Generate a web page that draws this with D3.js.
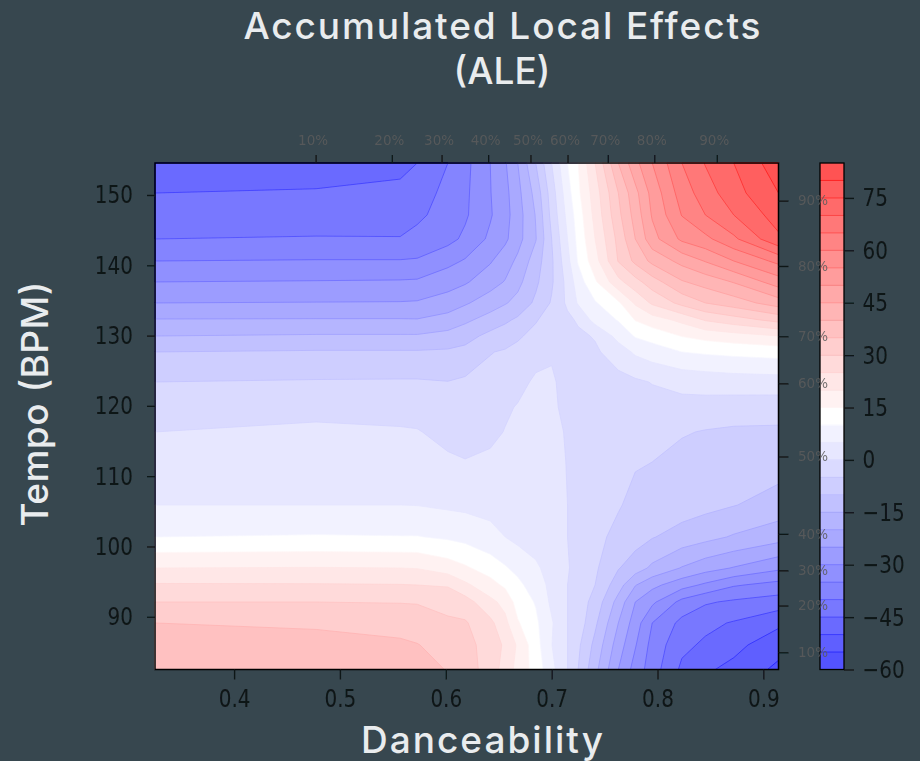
<!DOCTYPE html>
<html>
<head>
<meta charset="utf-8">
<script src="https://cdn.jsdelivr.net/npm/d3@7"></script>
<style>
html,body{margin:0;padding:0;background:#37474f;}
svg{display:block;}
</style>
</head>
<body>
<svg id="chart" width="920" height="761"></svg>
<script>
const danceabilityGrid = [0.3253,0.4775,0.5569,0.573,0.602,0.6183,0.642,0.6561,0.668,0.685,0.70,0.715,0.725,0.741,0.763,0.779,0.795,0.823,0.8452,0.872,0.9143];
const tempoGrid = [154.55,150.28,147.16,143.74,140.61,137.63,134.64,132.22,129.94,127.67,123.4,119.84,116.29,112.02,105.9,101.35,96.94,94.52,92.1,89.12,85.99,82.5];
const aleValues = [
 [-49,-48,-46.5,-45,-40,-36.5,-30,-25.5,-20,-10,0,10,15,25,40,48.5,55,65,70.3,75,83],
 [-45,-44.5,-43.7,-42,-38.8,-36,-30.2,-26.5,-21.5,-13.3,-2.5,8,14,22.5,35,43.5,51.7,62.4,67.5,73.1,80],
 [-42.6,-42.2,-41.8,-41,-37.9,-35.7,-30.5,-26.8,-22.2,-14.7,-3.5,6.5,12.5,21.5,33.7,42,50.5,60.2,65,70,77.4],
 [-40,-39.7,-39.8,-38.5,-36.5,-34,-29,-26,-21.8,-15.3,-5,5,11.5,20,31.5,40,48.2,56,58.7,64,74],
 [-35,-34.7,-34.7,-34.5,-31.5,-29.5,-25.5,-22.2,-19,-12.5,-5.8,3.5,10.5,18,30.3,36.2,41.3,46.6,50.3,55,61.4],
 [-30,-29.7,-29.5,-29.3,-26.8,-25.6,-22,-19.7,-16.4,-11,-5.7,1.7,7.5,14.3,23.5,28.2,32.7,39.5,42,45.3,52.5],
 [-25,-24.8,-24.7,-24.5,-23,-20.6,-17.5,-15.4,-13.5,-9,-4.5,1,5.5,9.5,14.2,20.7,25.8,31.5,35,37.5,42.5],
 [-19.7,-19.6,-19.6,-19.7,-17.8,-16,-12.9,-10.9,-9.1,-5.3,-3.3,-1.2,0.7,6.8,10.3,15.2,17.7,21.2,25.4,27.8,31.5],
 [-15,-14.5,-14.5,-14.5,-13.5,-11.8,-8.6,-7.3,-5.5,-3.9,-2.8,-1.8,-1,0.4,6.7,10.4,12,15.2,16.7,18,20],
 [-10,-9.5,-9.5,-9.5,-9.2,-8.6,-5.2,-4.5,-4,-1.8,-0.5,-1,-0.8,-0.8,2.5,5.8,7.5,10,10.7,11.3,12],
 [-5,-4.6,-4.5,-4.5,-4.9,-4.2,-3.5,-2.5,-1.5,0.8,0.6,-1.5,-1.7,-2,-1.6,-0.8,0.2,1.5,2,2.5,2.8],
 [-2.8,-1.5,-1.8,-2,-3.2,-3,-2.2,-0.7,0.3,1.3,0.7,-1,-1.7,-1.9,-2.2,-2,-1.7,-1.6,-1.8,-2.3,-2.6],
 [0,1,0.5,0.3,-1.5,-1.8,-1.2,0.2,1.5,2.3,1.5,-0.5,-1.5,-2.2,-2.8,-3.2,-3.5,-4.6,-5.3,-5.8,-5.9],
 [2,2.6,2.4,2.4,0.8,0.2,1,1.8,2.5,3.5,2.5,-0.3,-1.8,-3,-4.3,-4.7,-5,-6.5,-7,-7.5,-7.9],
 [5,5,5,4.9,4.2,3.9,3.5,3.4,3.5,3.7,3,0,-2.3,-4.3,-4.7,-6,-6.2,-7.5,-8.6,-9.8,-12],
 [10,10.4,10.2,10.2,9.3,8.5,6.5,5,3.7,3.6,2.8,0,-2,-4,-6,-8,-9.7,-12.1,-13.5,-15.5,-18],
 [20,20.2,20,19.8,17.5,15.7,12.8,10.5,8.5,5.5,3.8,0.3,-1.3,-4.2,-9.7,-12.5,-16,-20.3,-23,-25.3,-29],
 [25.5,25.4,25.2,25,24.6,21,16.8,14.1,11.3,7.4,3.7,0,-2,-5,-12.8,-19.7,-23.6,-28,-30.9,-34.5,-36.7],
 [30,30,29.8,29.7,28,27.2,21.3,18.5,13,9.6,4,0,-2.3,-6.8,-16.9,-25,-29,-36.5,-39.4,-40.8,-42.3],
 [35,34.5,33.2,32.5,31,30.5,26.3,21.3,15.5,11,5.5,0,-2.2,-9,-20,-27.5,-35,-41.4,-43.8,-45.4,-49],
 [36.8,36.2,35.8,35.2,33,31.8,27.7,24.2,19.3,12,5.1,0,-4,-11.4,-22.5,-29.6,-36.7,-43.8,-45.8,-48.6,-53],
 [38.5,38,37,36.5,34.8,32.2,28,22.7,18.5,13,6.5,0,-5,-13.5,-25,-32,-37.6,-46,-49.3,-51.3,-56.2]
];
const contourLevels = [-60,-55,-50,-45,-40,-35,-30,-25,-20,-15,-10,-5,0,5,10,15,20,25,30,35,40,45,50,55,60,65,70,75,80,85];
const xTicks = [0.4,0.5,0.6,0.7,0.8,0.9];
const yTicks = [90,100,110,120,130,140,150];
const colorbarTicks = [-60,-45,-30,-15,0,15,30,45,60,75];
const danceabilityDeciles = [0.477,0.549,0.596,0.640,0.680,0.715,0.753,0.797,0.856];
const tempoDeciles = [84.95,91.6,96.6,101.8,112.8,123.2,129.9,139.9,149.2];
const percentLabels = ["10%","20%","30%","40%","50%","60%","70%","80%","90%"];

const svg = d3.select("#chart");
const left = 155, right = 778.5, top_ = 163, bottom = 669.5;
const cbLeft = 820, cbRight = 844;
const tickCol = "#101416";

const x = d3.scaleLinear().domain([danceabilityGrid[0], danceabilityGrid[danceabilityGrid.length - 1]]).range([left, right]);
const y = d3.scaleLinear().domain([tempoGrid[tempoGrid.length - 1], tempoGrid[0]]).range([bottom, top_]);
const cb = d3.scaleLinear().domain([-60, 85]).range([bottom, top_]);

const bwr = d3.scaleLinear().domain([-60, 12.5, 85]).range(["#0000ff", "#ffffff", "#ff0000"]);
const overWhite = c => d3.interpolateRgb("#ffffff", c)(0.7);
const bandColor = i => overWhite(bwr((contourLevels[i] + contourLevels[i + 1]) / 2));

const n = danceabilityGrid.length, m = tempoGrid.length;
const colToData = d3.scaleLinear().domain(d3.range(n).map(i => i + 0.5)).range(danceabilityGrid).clamp(true);
const rowToData = d3.scaleLinear().domain(d3.range(m).map(i => i + 0.5)).range(tempoGrid).clamp(true);
const path = d3.geoPath(d3.geoTransform({
  point(a, b) { this.stream.point(x(colToData(a)), y(rowToData(b))); }
}));

const defs = svg.append("defs");
defs.append("filter").attr("id", "soft").attr("x", "-5%").attr("y", "-5%").attr("width", "110%").attr("height", "110%")
  .append("feGaussianBlur").attr("stdDeviation", 0.6);

const plot = svg.append("g").attr("filter", "url(#soft)");

const bands = contourLevels.slice(0, -1);
const polys = d3.contours().size([n, m]).smooth(true).thresholds(bands)(aleValues.flat());

plot.append("g").selectAll("path").data(polys).join("path")
  .attr("d", path)
  .attr("fill", (d, i) => bandColor(i))
  .attr("stroke", "none");
plot.append("g").selectAll("path").data(polys.slice(1)).join("path")
  .attr("d", path)
  .attr("fill", "none")
  .attr("stroke", d => bwr(d.value))
  .attr("stroke-opacity", 0.7)
  .attr("stroke-width", 1);

plot.append("rect").attr("x", left).attr("y", top_).attr("width", right - left).attr("height", bottom - top_)
  .attr("fill", "none").attr("stroke", "#000").attr("stroke-width", 1.5);

const fmt = d => String(d).replace("-", "\u2212");
function styleAxis(g) {
  g.select(".domain").remove();
  g.selectAll(".tick line").attr("stroke", tickCol).attr("stroke-width", 1.3);
  g.selectAll("text").attr("fill", tickCol).attr("font-family", "'DejaVu Sans'").attr("font-size", 20)
    .attr("transform", "scale(1,1.25)");
}
plot.append("g").attr("transform", `translate(0,${bottom})`)
  .call(d3.axisBottom(x).tickValues(xTicks).tickFormat(d3.format(".1f")).tickSize(10).tickPadding(5.8))
  .call(styleAxis);
plot.append("g").attr("transform", `translate(${left},0)`)
  .call(d3.axisLeft(y).tickValues(yTicks).tickFormat(d3.format("d")).tickSize(8).tickPadding(14))
  .call(styleAxis);

// colorbar
plot.append("g").selectAll("rect").data(bands).join("rect")
  .attr("x", cbLeft).attr("width", cbRight - cbLeft)
  .attr("y", (d, i) => cb(contourLevels[i + 1]))
  .attr("height", (d, i) => cb(contourLevels[i]) - cb(contourLevels[i + 1]) + 0.5)
  .attr("fill", (d, i) => bandColor(i));
plot.append("g").selectAll("line").data(contourLevels.slice(1, -1)).join("line")
  .attr("x1", cbLeft).attr("x2", cbRight)
  .attr("y1", d => cb(d)).attr("y2", d => cb(d))
  .attr("stroke", d => bwr(d)).attr("stroke-opacity", 0.7);
plot.append("rect").attr("x", cbLeft).attr("y", top_).attr("width", cbRight - cbLeft).attr("height", bottom - top_)
  .attr("fill", "none").attr("stroke", "#000").attr("stroke-width", 1.3);
plot.append("g").attr("transform", `translate(${cbRight},0)`)
  .call(d3.axisRight(cb).tickValues(colorbarTicks).tickFormat(fmt).tickSize(10).tickPadding(8.5))
  .call(styleAxis);

// decile ticks
function styleQuant(g) {
  g.select(".domain").remove();
  g.selectAll(".tick line").attr("stroke", tickCol).attr("stroke-width", 1.3);
  g.selectAll("text").attr("fill", "#5c5c5c").attr("fill-opacity", 0.85)
    .attr("font-family", "'DejaVu Sans'").attr("font-size", 13.5);
}
const topQuant = plot.append("g").attr("transform", `translate(0,${top_})`)
  .call(d3.axisTop(x).tickValues(danceabilityDeciles).tickFormat((d, i) => percentLabels[i]).tickSize(8).tickPadding(10))
  .call(styleQuant);
topQuant.selectAll("text").attr("dx", -3);
plot.append("g").attr("transform", `translate(${right},0)`)
  .call(d3.axisRight(y).tickValues(tempoDeciles).tickFormat((d, i) => percentLabels[i]).tickSize(10).tickPadding(9.5))
  .call(styleQuant);

// titles
const titleCol = "#e9ecee";
function label(txt, px, py, size, len, rot) {
  svg.append("text").text(txt)
    .attr("font-family", "Inter").attr("font-weight", 500).attr("font-size", size).attr("fill", titleCol)
    .attr("text-anchor", "middle").attr("textLength", len).attr("lengthAdjust", "spacing")
    .attr("transform", `translate(${px},${py})` + (rot ? ` rotate(${rot})` : ""));
}
label("Accumulated Local Effects", 502, 39, 37, 517);
label("(ALE)", 502, 84, 37, 97);
label("Danceability", 482, 753, 37, 242);
label("Tempo (BPM)", 48, 404, 37, 245, -90);
</script>
</body>
</html>
